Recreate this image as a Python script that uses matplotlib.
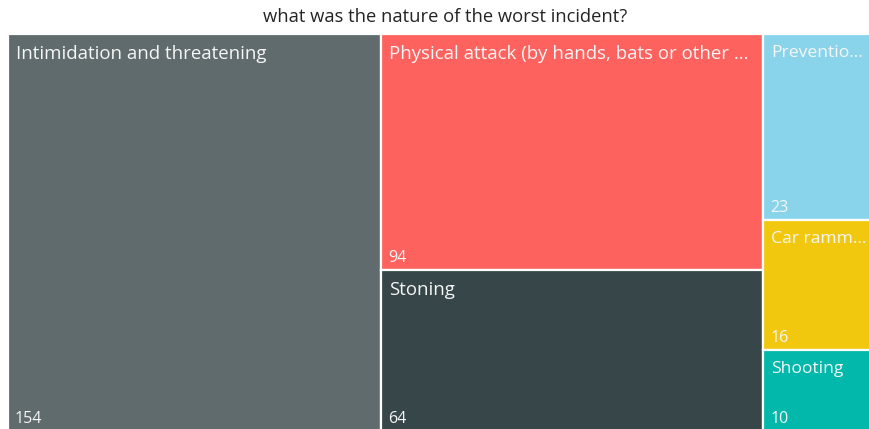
import matplotlib
matplotlib.use("Agg")
import matplotlib.pyplot as plt
from matplotlib.patches import Rectangle

# treemap data
labels = ["Intimidation and threatening", "Physical attack (by hands, bats or other ...",
          "Stoning", "Preventio...", "Car ramm...", "Shooting"]
values = [154, 94, 64, 23, 16, 10]
colors = ["#5F6B6D", "#FD625E", "#374649", "#8AD4EB", "#F2C80F", "#01B8AA"]
# which items share a column
columns = [[0], [1, 2], [3, 4, 5]]

title = "what was the nature of the worst incident?"

plt.rcParams["font.family"] = ["Open Sans", "DejaVu Sans"]

fig = plt.figure(figsize=(8.69, 4.29), dpi=100)
# plot area in pixels (it runs a little past the right and bottom edges)
W, H = 874, 397
ax = fig.add_axes([8 / 869, -2 / 429, W / 869, H / 429])
ax.set_xlim(0, W)
ax.set_ylim(H, 0)
ax.axis("off")

total = sum(values)
x = 0
for col in columns:
    col_sum = sum(values[i] for i in col)
    cw = col_sum / total * W
    # the last column is cut by the figure edge, keep its labels a bit smaller
    fs = 13.4 if x + cw < 869 else 12.6
    y = 0
    for i in col:
        ch = values[i] / col_sum * H
        ax.add_patch(Rectangle((x, y), cw, ch, facecolor=colors[i],
                               edgecolor="white", linewidth=1.6))
        ax.text(x + 8, y + 11, labels[i], color="#F6F6F6", fontsize=fs,
                va="top", ha="left")
        ax.text(x + 7, y + ch - 4, str(values[i]), color="#F6F6F6",
                fontsize=11.5, va="bottom", ha="left")
        y += ch
    x += cw

fig.text(445 / 869, 1 - 17 / 429, title, ha="center", va="center",
         fontsize=13.2, color="#252423")

fig.savefig("out.png", dpi=100)
